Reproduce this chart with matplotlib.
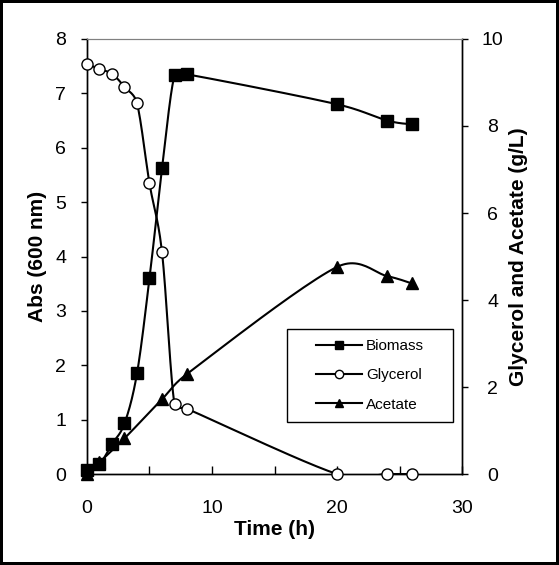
import numpy as np
import matplotlib.pyplot as plt
from matplotlib.lines import Line2D
from matplotlib.patches import Rectangle

plt.rcParams['font.family'] = ['Liberation Sans', 'DejaVu Sans']

# data
t_bio = [0, 1, 2, 3, 4, 5, 6, 7, 8, 20, 24, 26]
biomass = [0.08, 0.18, 0.55, 0.93, 1.85, 3.6, 5.62, 7.33, 7.35, 6.8, 6.5, 6.43]

t_gly = [0, 1, 2, 3, 4, 5, 6, 7, 8, 20, 24, 26]
glycerol = [9.42, 9.31, 9.2, 8.9, 8.52, 6.68, 5.1, 1.6, 1.5, 0.0, 0.0, 0.0]

t_ace = [0, 1, 3, 6, 8, 20, 24, 26]
acetate = [0.0, 0.27, 0.82, 1.72, 2.3, 4.76, 4.55, 4.38]


def smooth(x, y, sx, sy, n=25):
    # Excel-like smoothed line: bezier segments, tangent 1/6 of neighbour
    # chord, capped at half the segment length (in pixel space)
    p = np.column_stack([np.asarray(x, float) * sx, np.asarray(y, float) * sy])
    p = np.vstack([p[0], p, p[-1]])
    s = np.linspace(0, 1, n)[:, None]
    out = []
    for i in range(1, len(p) - 2):
        p0, p3 = p[i], p[i + 1]
        seg = np.linalg.norm(p3 - p0)
        t1 = (p3 - p[i - 1]) / 6
        t2 = (p[i + 2] - p0) / 6
        for t in (t1, t2):
            L = np.linalg.norm(t)
            if L > seg / 2 and L > 0:
                t *= (seg / 2) / L
        p1 = p0 + t1
        p2 = p3 - t2
        b = (1 - s) ** 3 * p0 + 3 * (1 - s) ** 2 * s * p1 + 3 * (1 - s) * s ** 2 * p2 + s ** 3 * p3
        out.append(b)
    out = np.vstack(out)
    return out[:, 0] / sx, out[:, 1] / sy


fig = plt.figure(figsize=(5.59, 5.65), dpi=100)
fig.patch.set_edgecolor('black')
fig.patch.set_linewidth(3)

ax = fig.add_axes([0.1556, 0.161, 0.671, 0.770])
ax2 = ax.twinx()

# pixel scale per data unit
sx, sy_l, sy_r = 12.5, 54.4, 43.5

lw = 1.5
ax.plot(*smooth(t_bio, biomass, sx, sy_l), color='black', lw=lw, zorder=3)
ax.plot(t_bio, biomass, ls='none', marker='s', ms=8.5, mfc='black', mec='black',
        zorder=4, clip_on=False)

ax2.plot(*smooth(t_gly, glycerol, sx, sy_r), color='black', lw=lw, zorder=3)
ax2.plot(t_gly, glycerol, ls='none', marker='o', ms=8, mfc='white', mec='black', mew=1,
         zorder=4, clip_on=False)

ax2.plot(*smooth(t_ace, acetate, sx, sy_r), color='black', lw=lw, zorder=3)
ax2.plot(t_ace, acetate, ls='none', marker='^', ms=8.5, mfc='black', mec='black',
         zorder=4, clip_on=False)

ax.set_xlim(0, 30)
ax.set_ylim(0, 8)
ax2.set_ylim(0, 10)

ax.set_xticks([0, 10, 20, 30])
ax.set_xticks([5, 15, 25], minor=True)
ax.set_yticks(range(0, 9))
ax2.set_yticks(range(0, 11, 2))

ax.tick_params(axis='x', direction='in', length=6, width=1, labelsize=14, pad=19)
ax.tick_params(axis='x', which='minor', direction='in', length=6, width=1)
ax.tick_params(axis='y', direction='out', length=4, width=1, labelsize=14, pad=11)
ax2.tick_params(axis='y', direction='out', length=4, width=1, labelsize=14, pad=18)
for lab in ax2.get_yticklabels():
    lab.set_horizontalalignment('center')

for a in (ax, ax2):
    a.spines['top'].set_color('#808080')
    for s in ('left', 'right', 'bottom'):
        a.spines[s].set_linewidth(1)

ax.set_xlabel('Time (h)', fontsize=15, fontweight='bold', labelpad=2)
ax.set_ylabel('Abs (600 nm)', fontsize=15, fontweight='bold', labelpad=6)
ax2.set_ylabel('Glycerol and Acetate (g/L)', fontsize=15, fontweight='bold', labelpad=4)

# legend box drawn separately to get the wide Excel-style padding
fig.patches.append(Rectangle((287 / 559, (565 - 422) / 565), 166 / 559, 93 / 565,
                             transform=fig.transFigure, fill=True, facecolor='white',
                             edgecolor='black', lw=1, zorder=5))
handles = [
    Line2D([], [], color='black', lw=lw, marker='s', ms=6, mfc='black', mec='black'),
    Line2D([], [], color='black', lw=lw, marker='o', ms=6, mfc='white', mec='black'),
    Line2D([], [], color='black', lw=lw, marker='^', ms=6, mfc='black', mec='black'),
]
leg = fig.legend(handles, ['Biomass', 'Glycerol', 'Acetate'], loc='center',
                 bbox_to_anchor=(370 / 559, (565 - 375.5) / 565), fontsize=11,
                 frameon=False, handlelength=3, labelspacing=1.0, handletextpad=0.3)
leg.set_zorder(6)

fig.savefig('out.png', dpi=100)
